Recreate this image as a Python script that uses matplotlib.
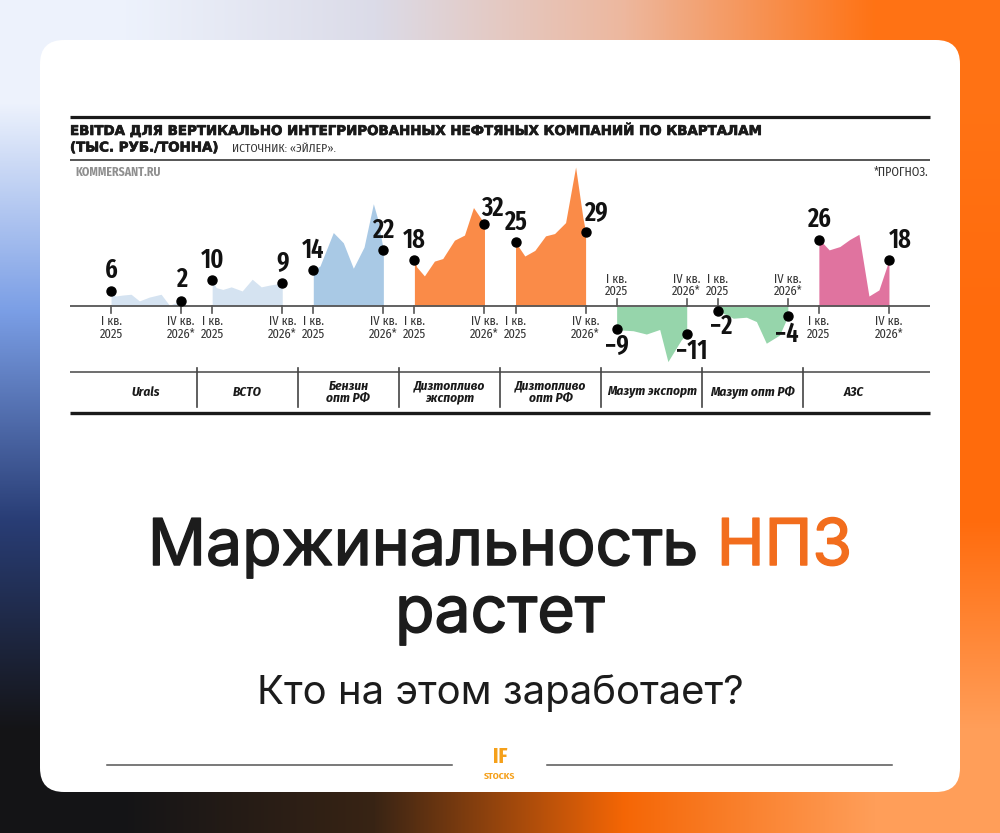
import numpy as np
import matplotlib
matplotlib.use("Agg")
import matplotlib.pyplot as plt
from matplotlib import font_manager
from matplotlib import patheffects
from matplotlib.patches import FancyBboxPatch
from matplotlib.transforms import blended_transform_factory

# категории (сегменты)
categories = ["Urals", "ВСТО", "Бензин\nопт РФ", "Дизтопливо\nэкспорт", "Дизтопливо\nопт РФ",
              "Мазут экспорт", "Мазут опт РФ", "АЗС"]

# позиция в кварталах: 0 = I кв. 2025, 7 = IV кв. 2026*
urals_q = [0, 0.43, 1.17, 2.0, 2.83, 3.83, 5.0, 5.83, 7]
urals_v = [6, 3.9, 4.3, 4.6, 2.0, 3.5, 4.6, 0.3, 2]

vsto_q = [0, 0.4, 1.07, 1.9, 3.0, 4.0, 4.9, 5.73, 7]
vsto_v = [10, 7.2, 6.5, 7.5, 5.9, 10.5, 7.5, 8.2, 9]

benz_q = [0, 0.67, 2.0, 3.0, 4.0, 5.07, 6.0, 6.4, 7]
benz_v = [14, 15.7, 28.8, 24.8, 14.8, 23.1, 40.1, 34.6, 22]

dt_exp_q = [0, 0.23, 1.0, 2.0, 2.83, 4.0, 5.0, 5.9, 6.77, 7]
dt_exp_v = [18, 15.3, 11.8, 17.6, 18.6, 25.8, 27.8, 38.6, 33.6, 32]

dt_opt_q = [0, 0.93, 1.93, 3.0, 3.9, 5.0, 6.0, 6.73, 7]
dt_opt_v = [25, 19.6, 21.8, 27.5, 28.4, 32.7, 54.5, 34.6, 29]

maz_exp_q = [0, 0.4, 1.65, 2.97, 4.3, 5.12, 6.45, 7]
maz_exp_v = [-9, -9.4, -9.7, -11, -9.2, -21.8, -13.3, -11]

maz_opt_q = [0, 0.56, 1.55, 2.87, 3.86, 4.85, 6.17, 7]
maz_opt_v = [-2, -2.9, -4.8, -4.4, -6.1, -14.6, -11.4, -4]

azs_q = [0, 0.27, 1.03, 2.09, 3.09, 4.0, 5.0, 6.0, 7]
azs_v = [26, 25.2, 22.0, 23.3, 26.1, 28.1, 3.9, 6.3, 18]

series = [(urals_q, urals_v), (vsto_q, vsto_v), (benz_q, benz_v), (dt_exp_q, dt_exp_v),
          (dt_opt_q, dt_opt_v), (maz_exp_q, maz_exp_v), (maz_opt_q, maz_opt_v), (azs_q, azs_v)]

colors = ["#d5e3f1", "#d5e3f1", "#a9c9e5", "#fa8b48", "#fa8b48", "#96d5ab", "#96d5ab", "#e0739f"]

tick_top = ["I кв.\n2025", "IV кв.\n2026*"]

# шрифты
names = {f.name for f in font_manager.fontManager.ttflist}


def pick(*cands):
    for c in cands:
        if c in names:
            return [c, "DejaVu Sans"]
    return ["DejaVu Sans"]


num_font = pick("Fira Sans Extra Condensed", "Oswald", "Roboto Condensed", "PT Sans Narrow", "Liberation Sans")
small_font = pick("Fira Sans Condensed", "Roboto Condensed", "PT Sans Narrow", "Liberation Sans")
head = pick("Inter", "Roboto", "DejaVu Sans")

fig = plt.figure(figsize=(10, 8.33), dpi=100)
r = fig.canvas.get_renderer()


def fit(t, target):
    w = t.get_window_extent(r).width
    t.set_fontsize(t.get_fontsize() * target / w)
    return t.get_fontsize()


# фон
bg = fig.add_axes([0, 0, 1, 1])
grad = np.array([
    [[0.93, 0.95, 0.99], [0.86, 0.86, 0.91], [0.93, 0.72, 0.62], [1.00, 0.45, 0.08]],
    [[0.48, 0.62, 0.90], [0.80, 0.80, 0.85], [0.95, 0.60, 0.40], [1.00, 0.42, 0.05]],
    [[0.16, 0.24, 0.46], [0.60, 0.55, 0.55], [0.98, 0.50, 0.20], [1.00, 0.42, 0.05]],
    [[0.08, 0.08, 0.09], [0.22, 0.14, 0.08], [0.96, 0.40, 0.02], [1.00, 0.62, 0.35]],
])
bg.imshow(grad, extent=(0, 1000, 833, 0), interpolation="bilinear", aspect="auto", zorder=0)
bg.set_xlim(0, 1000)
bg.set_ylim(833, 0)
bg.axis("off")

card = FancyBboxPatch((40, 40), 920, 752, boxstyle="round,pad=0,rounding_size=24",
                      facecolor="white", edgecolor="none", zorder=1)
bg.add_patch(card)

# шапка графика
bold_fx = [patheffects.withStroke(linewidth=0.5, foreground="#1a1a1a")]
bg.plot([70, 930], [117, 117], color="#1a1a1a", lw=2.3, zorder=2, solid_capstyle="butt")
bg.plot([70, 930], [160, 160], color="#555555", lw=1.4, zorder=2, solid_capstyle="butt")
t = bg.text(70, 131, "EBITDA ДЛЯ ВЕРТИКАЛЬНО ИНТЕГРИРОВАННЫХ НЕФТЯНЫХ КОМПАНИЙ ПО КВАРТАЛАМ",
            fontsize=10, family="DejaVu Sans", fontweight="bold", color="#1a1a1a",
            va="center", zorder=3, path_effects=bold_fx)
fs = fit(t, 694)
bg.text(70, 148, "(ТЫС. РУБ./ТОННА)", fontsize=fs, family="DejaVu Sans", fontweight="bold",
        color="#1a1a1a", va="center", zorder=3, path_effects=bold_fx)
t = bg.text(232, 148.5, "ИСТОЧНИК: «ЭЙЛЕР».", fontsize=8.5, family=small_font,
            color="#333333", va="center", zorder=3)
fit(t, 104)
t = bg.text(75, 172, "KOMMERSANT.RU", fontsize=7, family=small_font, fontweight="bold",
            color="#8f8f8f", va="center", zorder=3)
fit(t, 85)
t = bg.text(928, 172, "*ПРОГНОЗ.", fontsize=8, family=small_font,
            color="#333333", va="center", ha="right", zorder=3)
fit(t, 55)

# график
ax = fig.add_axes([0.07, 1 - 420 / 833, 0.86, 265 / 833])
step = 10.1
ax.set_xlim(-4.1, 81.8)
ax.set_ylim(-44.7, 59.2)
ax.axis("off")
ax.set_zorder(2)
ax.patch.set_alpha(0)
trans = blended_transform_factory(ax.transData, bg.transData)

ax.axhline(0, color="#555555", lw=1.3, zorder=3)

start_off = [(0, 7), (0, 7), (0, 7), (0, 7), (0, 7), (0, -4), (3, -2), (0, 7)]
end_off = [(0, 8), (0, 6), (0, 6), (8, 3), (10, 5), (5, -4), (-1, -5), (11, 7)]

# размер подписей категорий по ширине «Мазут экспорт»
probe = bg.text(0, 0, "Мазут экспорт", fontsize=10, family=small_font, fontweight="bold",
                style="italic")
cat_fs = fit(probe, 90)
probe.remove()

for i, (q, v) in enumerate(series):
    x = i * step + np.array(q)
    v = np.array(v)
    ax.fill_between(x, 0, v, color=colors[i], lw=0, zorder=2)
    ax.plot([x[0], x[-1]], [v[0], v[-1]], "o", color="black", ms=6.5, zorder=4)
    neg = v[0] < 0
    for xt, lab in zip((x[0], x[-1]), tick_top):
        if neg:
            ax.plot([xt, xt], [299, 306], color="#555555", lw=1.2, transform=trans, zorder=3)
            ax.text(xt, 298, lab, transform=trans, ha="center", va="bottom", fontsize=9,
                    family=small_font, color="#333333", linespacing=1.05)
        else:
            ax.plot([xt, xt], [306, 313], color="#555555", lw=1.2, transform=trans, zorder=3)
            ax.text(xt, 315, lab, transform=trans, ha="center", va="top", fontsize=9,
                    family=small_font, color="#333333", linespacing=1.05)
    for (xx, vv, off) in ((x[0], v[0], start_off[i]), (x[-1], v[-1], end_off[i])):
        txt = f"{int(round(vv))}".replace("-", "−")
        ax.annotate(txt, (xx, vv), xytext=off, textcoords="offset pixels",
                    ha="center", va="top" if vv < 0 else "bottom",
                    fontsize=19, family=num_font, fontweight="semibold", color="#111111", zorder=5)
    # подпись категории
    cx = i * step + 3.5
    ax.text(cx, 392, categories[i], transform=trans, ha="center", va="center",
            fontsize=cat_fs, family=small_font, fontweight="bold", style="italic",
            color="#1a1a1a", linespacing=0.95)
    if i < len(series) - 1:
        dx = i * step + 8.55
        ax.plot([dx, dx], [368, 407], color="#444444", lw=1.2, transform=trans)

bg.plot([70, 930], [372, 372], color="#555555", lw=1.2, zorder=2, solid_capstyle="butt")
bg.plot([70, 930], [413, 413], color="#1a1a1a", lw=2.4, zorder=2, solid_capstyle="butt")

# заголовок
med_fx = [patheffects.withStroke(linewidth=1.1, foreground="#1c1c1c")]
org_fx = [patheffects.withStroke(linewidth=1.1, foreground="#f26d1d")]
t1 = bg.text(0, 548, "Маржинальность ", fontsize=44, family=head,
             color="#1c1c1c", va="center", ha="left", zorder=3, path_effects=med_fx)
t2 = bg.text(0, 548, "НПЗ", fontsize=44, family=head,
             color="#f26d1d", va="center", ha="left", zorder=3, path_effects=org_fx)
w1 = t1.get_window_extent(r).width
w2 = t2.get_window_extent(r).width
k = 704 / (w1 + w2)
t1.set_fontsize(44 * k)
t2.set_fontsize(44 * k)
w1 = t1.get_window_extent(r).width
w2 = t2.get_window_extent(r).width
x0 = 500 - (w1 + w2) / 2
t1.set_x(x0)
t2.set_x(x0 + w1)

bg.text(500, 615, "растет", fontsize=44 * k, family=head,
        color="#1c1c1c", va="center", ha="center", zorder=3, path_effects=med_fx)
t = bg.text(500, 693, "Кто на этом заработает?", fontsize=26, family=head,
            color="#1c1c1c", va="center", ha="center", zorder=3)
fit(t, 488)

# подвал
bg.plot([107, 452], [765, 765], color="#555555", lw=1.1, zorder=2)
bg.plot([547, 892], [765, 765], color="#555555", lw=1.1, zorder=2)
bg.text(500, 757, "IF", fontsize=16, family=num_font, fontweight="bold", color="#f5a01a",
        ha="center", va="center", zorder=3)
bg.text(500, 776, "STOCKS", fontsize=7, family=small_font, fontweight="bold", color="#f5a01a",
        ha="center", va="center", zorder=3)

fig.savefig("out.png", dpi=100)
